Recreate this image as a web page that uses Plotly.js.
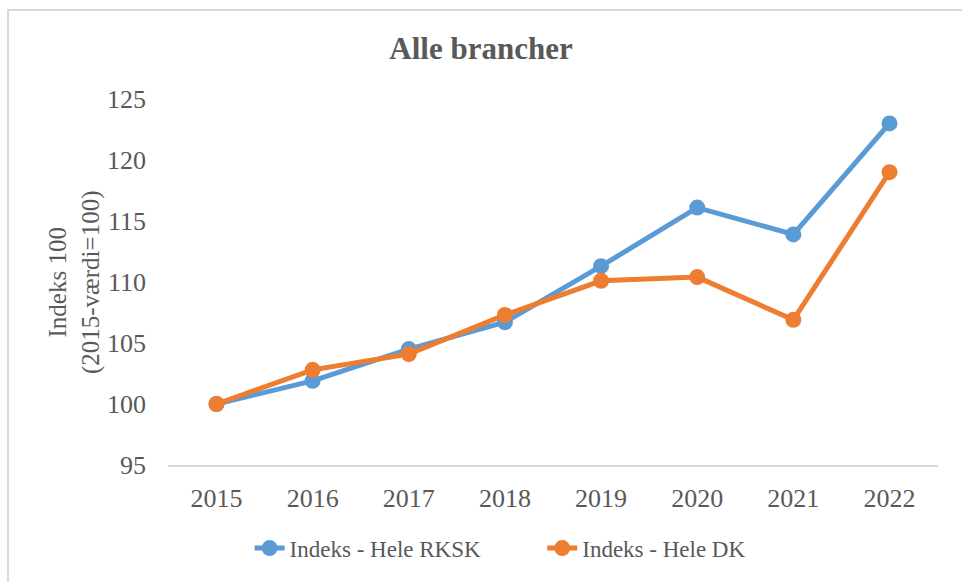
<!DOCTYPE html>
<html>
<head>
<meta charset="utf-8">
<script src="https://cdn.plot.ly/plotly-3.0.1.min.js"></script>
<style>
  html, body { margin: 0; padding: 0; background: #fff; }
  #wrap { position: relative; width: 962px; height: 582px; overflow: hidden; }
  #chart { position: absolute; left: 0; top: 0; width: 962px; height: 582px; }
  #frame { position: absolute; left: 7px; top: 9px; width: 1000px; height: 700px;
           border: 2px solid #d9d9d9; pointer-events: none; box-sizing: border-box; }
</style>
</head>
<body>
<div id="wrap">
  <div id="chart"></div>
  <div id="frame"></div>
</div>
<script>
const years = ['2015', '2016', '2017', '2018', '2019', '2020', '2021', '2022'];
const rksk = [100, 101.9, 104.5, 106.7, 111.3, 116.1, 113.9, 123.0];
const dk = [100, 102.8, 104.1, 107.3, 110.1, 110.4, 106.9, 119.0];
const seriesNames = ['Indeks - Hele RKSK', 'Indeks - Hele DK'];
const yTicks = [95, 100, 105, 110, 115, 120, 125];

const fontFam = '"Liberation Serif", "DejaVu Serif", serif';
const grey = '#595959';

const traces = [
  { x: years, y: rksk, name: seriesNames[0], type: 'scatter', mode: 'lines+markers', legend: 'legend',
    line: { color: '#5B9BD5', width: 5 }, marker: { color: '#5B9BD5', size: 16 } },
  { x: years, y: dk, name: seriesNames[1], type: 'scatter', mode: 'lines+markers', legend: 'legend2',
    line: { color: '#ED7D31', width: 5 }, marker: { color: '#ED7D31', size: 16 } }
];

const legFont = { family: fontFam, size: 23, color: grey };

const layout = {
  width: 962, height: 582,
  margin: { l: 168, r: 24, t: 99, b: 117 },
  paper_bgcolor: '#ffffff', plot_bgcolor: '#ffffff',
  font: { family: fontFam, color: grey, size: 22 },
  title: { text: '<b>Alle brancher</b>', x: 0.5, xanchor: 'center', y: 0.918, yanchor: 'middle',
           font: { family: fontFam, size: 31, color: grey } },
  showlegend: true,
  legend: { orientation: 'h', x: 0.106, xanchor: 'left', y: -0.227, yanchor: 'middle',
            font: legFont, bgcolor: 'rgba(0,0,0,0)' },
  legend2: { orientation: 'h', x: 0.486, xanchor: 'left', y: -0.227, yanchor: 'middle',
            font: legFont, bgcolor: 'rgba(0,0,0,0)' },
  xaxis: { type: 'category', showgrid: false, zeroline: false, showline: true,
           linecolor: '#d9d9d9', linewidth: 2, ticks: '', ticklabelstandoff: 9,
           tickfont: { family: fontFam, size: 26, color: grey }, fixedrange: true },
  yaxis: { range: [95, 125], tickvals: yTicks, showgrid: false, zeroline: false,
           showline: false, ticks: '', ticklabelstandoff: 21,
           tickfont: { family: fontFam, size: 26, color: grey }, fixedrange: true },
  annotations: [
    { text: 'Indeks 100<br>(2015-værdi=100)', xref: 'paper', yref: 'paper',
      x: -0.122, y: 0.5, xanchor: 'center', yanchor: 'middle', textangle: -90,
      showarrow: false, font: { family: fontFam, size: 25, color: grey } }
  ]
};

Plotly.newPlot('chart', traces, layout, { displayModeBar: false, staticPlot: true });
</script>
</body>
</html>
